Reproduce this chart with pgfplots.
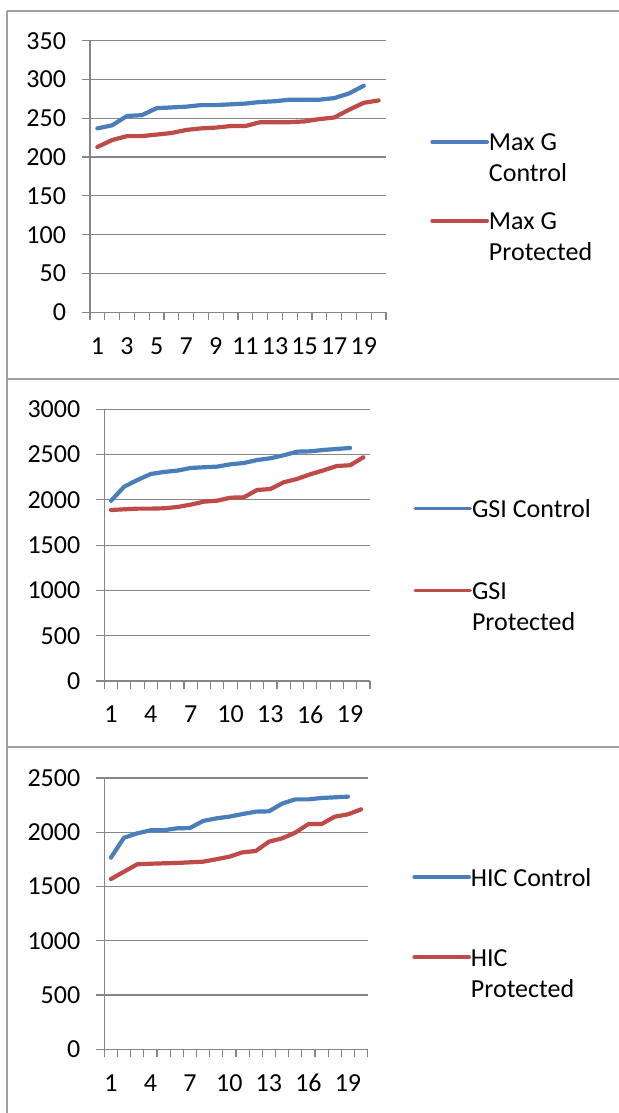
\documentclass[border=0pt]{standalone}
\usepackage{fontspec}
\setmainfont{Carlito}
\usepackage{pgfplots}
\usepackage{pgfplotstable}
\pgfplotsset{compat=1.18}

\definecolor{ctrl}{HTML}{4A7EBB}
\definecolor{prot}{HTML}{BE4B48}
\definecolor{gridgray}{HTML}{868686}
\definecolor{cellgray}{HTML}{A0A0A0}

% n = test number; ctrl = control series, prot = protected series
\pgfplotstableread{
n ctrl prot
1 237 213
2 241 222
3 253 227
4 254 227
5 263 229
6 264 231
7 265 235
8 267 237
9 267 238
10 268 240
11 269 240
12 271 245
13 272 245
14 274 245
15 274 246
16 274 249
17 276 251
18 282 261
19 292 270
20 nan 273
}\maxgdata

\pgfplotstableread{
n ctrl prot
1 1990 1888
2 2146 1896
3 2220 1903
4 2286 1903
5 2308 1907
6 2323 1921
7 2352 1947
8 2360 1980
9 2367 1991
10 2393 2024
11 2407 2028
12 2440 2109
13 2459 2120
14 2492 2194
15 2532 2231
16 2536 2282
17 2551 2326
18 2562 2374
19 2573 2382
20 nan 2470
}\gsidata

\pgfplotstableread{
n ctrl prot
1 1766 1569
2 1950 1637
3 1990 1705
4 2018 1710
5 2018 1714
6 2036 1717
7 2039 1723
8 2104 1729
9 2128 1751
10 2144 1775
11 2168 1815
12 2190 1827
13 2193 1913
14 2264 1944
15 2303 1996
16 2303 2076
17 2316 2076
18 2322 2144
19 2328 2165
20 nan 2211
}\hicdata

\newcommand{\fs}{\fontsize{13}{15.6}\selectfont}
\newcommand{\ls}{\rule{0pt}{14pt}}

\pgfplotsset{
  panel/.style={
    scale only axis,
    clip=false,
    axis x line*=bottom,
    axis y line*=left,
    axis line style={-, draw=gridgray, line width=0.6pt},
    xmin=0.5, xmax=20.5,
    ymin=0,
    ymajorgrids,
    major grid style={draw=gridgray, line width=0.6pt},
    tick align=outside,
    major tick length=4pt,
    minor tick length=4pt,
    major x tick style={draw=none},
    every tick/.style={draw=gridgray, line width=0.6pt},
    minor xtick={0.5,1.5,...,20.5},
    tick label style={font=\fs},
    xticklabel style={yshift=-5pt},
    yticklabel style={xshift=-4.5pt},
    legend style={draw=none, fill=none, anchor=north west,
      inner sep=0pt, row sep=0pt, column sep=0pt, font=\fs,
      nodes={inner sep=0pt}},
    legend cell align=left,
    legend image code/.code={\draw[##1, line width=1.8pt] (0pt,-1.8pt) -- (27.5pt,-1.8pt);},
  },
  ctrlline/.style={draw=ctrl, line width=2.1pt, line cap=round, line join=round, no marks},
  protline/.style={draw=prot, line width=2.1pt, line cap=round, line join=round, no marks},
}

\begin{document}
\begin{tikzpicture}
\useasboundingbox (0pt,0pt) rectangle (309.5pt,556.5pt);

% cell borders
\draw[cellgray, line width=0.8pt] (3.5pt,0pt) -- (3.5pt,551pt);
\draw[cellgray, line width=0.8pt] (3.5pt,551pt) -- (309.5pt,551pt);
\draw[cellgray, line width=0.8pt] (3.5pt,367pt) -- (309.5pt,367pt);
\draw[cellgray, line width=0.8pt] (3.5pt,183pt) -- (309.5pt,183pt);

% Max G
\begin{axis}[panel, at={(45pt,400.35pt)}, anchor=south west,
  width=148pt, height=135.8pt, ymax=350,
  ytick={0,50,...,350}, yticklabels={0,50,100,150,200,250,300,350},
  xtick={1,3,...,19}, xticklabels={1,3,5,7,9,11,13,15,17,19},
  legend style={at={(1.1486,0.699)}}]
\addplot[ctrlline] table[x=n, y=ctrl] {\maxgdata};
\addlegendentry{\ls Max G}
\addlegendimage{empty legend}
\addlegendentry{\ls Control}
\addlegendimage{empty legend}
\addlegendentry{\rule{0pt}{7pt}}
\addplot[protline] table[x=n, y=prot] {\maxgdata};
\addlegendentry{\ls Max G}
\addlegendimage{empty legend}
\addlegendentry{\ls Protected}
\end{axis}

% GSI
\begin{axis}[panel, at={(52.15pt,216pt)}, anchor=south west,
  width=132.85pt, height=135.85pt, ymax=3000,
  ytick={0,500,...,3000}, yticklabels={0,500,1000,1500,2000,2500,3000},
  xtick={1,4,...,19}, xticklabels={1,4,7,10,13,16,19},
  legend style={at={(1.162,0.706)}}]
\addplot[ctrlline] table[x=n, y=ctrl] {\gsidata};
\addlegendentry{\ls GSI Control}
\addlegendimage{empty legend}
\addlegendentry{\rule{0pt}{24pt}}
\addplot[protline] table[x=n, y=prot] {\gsidata};
\addlegendentry{\ls GSI}
\addlegendimage{empty legend}
\addlegendentry{\ls Protected}
\end{axis}

% HIC
\begin{axis}[panel, at={(52.15pt,31.85pt)}, anchor=south west,
  width=131.7pt, height=135.65pt, ymax=2500,
  ytick={0,500,...,2500}, yticklabels={0,500,1000,1500,2000,2500},
  xtick={1,4,...,19}, xticklabels={1,4,7,10,13,16,19},
  legend style={at={(1.168,0.706)}}]
\addplot[ctrlline] table[x=n, y=ctrl] {\hicdata};
\addlegendentry{\ls HIC Control}
\addlegendimage{empty legend}
\addlegendentry{\rule{0pt}{23pt}}
\addplot[protline] table[x=n, y=prot] {\hicdata};
\addlegendentry{\ls HIC}
\addlegendimage{empty legend}
\addlegendentry{\ls Protected}
\end{axis}
\end{tikzpicture}
\end{document}
